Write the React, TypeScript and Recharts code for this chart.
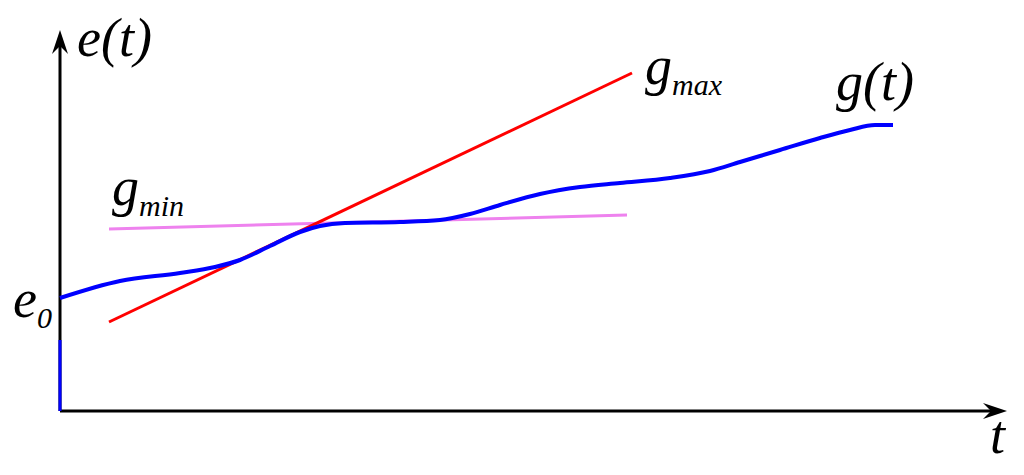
import { LineChart, Line, XAxis, YAxis, ReferenceDot } from 'recharts';

// values in chart units (x: time, y: e), origin at the axes crossing
const gStart = [
    { t: 0, v: 0 },
    { t: 0, v: 71 },
];
const gCurve = [
    { t: 0, v: 113 }, { t: 60, v: 130 }, { t: 120, v: 138 }, { t: 155, v: 144 },
    { t: 180, v: 151 }, { t: 210, v: 165 }, { t: 240, v: 179 }, { t: 260, v: 185 },
    { t: 285, v: 188 }, { t: 340, v: 189 }, { t: 380, v: 191 }, { t: 410, v: 197 },
    { t: 440, v: 206 }, { t: 480, v: 217 }, { t: 520, v: 224 }, { t: 560, v: 228 },
    { t: 610, v: 233 }, { t: 650, v: 240 }, { t: 680, v: 249 }, { t: 720, v: 261 },
    { t: 760, v: 273 }, { t: 790, v: 281 }, { t: 815, v: 286 }, { t: 833, v: 286 },
];
const gMax = [
    { t: 49, v: 89 },
    { t: 572, v: 338 },
];
const gMin = [
    { t: 49, v: 182 },
    { t: 567, v: 196 },
];
const xAxisLine = [
    { t: 0, v: 0 },
    { t: 935, v: 0 },
];
const yAxisLine = [
    { t: 0, v: 0 },
    { t: 0, v: 369 },
];
const tEnd = 947;
const eEnd = 381;
// visible range, wider than the axes so the labels fit inside the plot
const tDomain = [-60, 964];
const eDomain = [-64, 411];

// label text: main part + optional subscript
const labels = [
    { t: 17, v: 355, main: 'e(t)', sub: '' },
    { t: -47, v: 94, main: 'e', sub: '0' },
    { t: 585, v: 327, main: 'g', sub: 'max' },
    { t: 776, v: 311, main: 'g(t)', sub: '' },
    { t: 52, v: 206, main: 'g', sub: 'min' },
    { t: 930, v: -42, main: 't', sub: '' },
];

const makeLabel = (main: string, sub: string) => (props: any) => {
    const { cx, cy } = props;
    return (
        <text x={cx} y={cy} fontFamily="Liberation Serif" fontSize={54} fontStyle="italic">
            {main}
            {sub ? (
                <tspan fontFamily="Liberation Serif" fontSize={30} dy={11}>
                    {sub}
                </tspan>
            ) : null}
        </text>
    );
};

const arrowUp = (props: any) => {
    const { cx, cy } = props;
    return (
        <polygon
            points={`${cx},${cy} ${cx - 8},${cy + 24} ${cx},${cy + 16} ${cx + 8},${cy + 24}`}
            fill="#000"
        />
    );
};

const arrowRight = (props: any) => {
    const { cx, cy } = props;
    return (
        <polygon
            points={`${cx},${cy} ${cx - 24},${cy - 8} ${cx - 16},${cy} ${cx - 24},${cy + 8}`}
            fill="#000"
        />
    );
};

export default function App() {
    return (
        <div style={{ margin: -8 }}>
            <LineChart width={1024} height={475} margin={{ top: 0, right: 0, bottom: 0, left: 0 }}>
                <XAxis type="number" dataKey="t" domain={tDomain} allowDataOverflow hide />
                <YAxis type="number" dataKey="v" domain={eDomain} allowDataOverflow hide />
                <Line data={xAxisLine} dataKey="v" type="linear" stroke="#000" strokeWidth={3} dot={false} isAnimationActive={false} />
                <Line data={yAxisLine} dataKey="v" type="linear" stroke="#000" strokeWidth={3} dot={false} isAnimationActive={false} />
                <Line data={gMin} dataKey="v" type="linear" stroke="#ee82ee" strokeWidth={3} dot={false} isAnimationActive={false} />
                <Line data={gMax} dataKey="v" type="linear" stroke="#ff0000" strokeWidth={3} dot={false} isAnimationActive={false} />
                <Line data={gStart} dataKey="v" type="linear" stroke="#0000ff" strokeWidth={3} dot={false} isAnimationActive={false} />
                <Line data={gCurve} dataKey="v" type="monotone" stroke="#0000ff" strokeWidth={4} dot={false} isAnimationActive={false} />
                <ReferenceDot x={tEnd} y={0} r={0} shape={arrowRight} />
                <ReferenceDot x={0} y={eEnd} r={0} shape={arrowUp} />
                {labels.map((l, i) => (
                    <ReferenceDot key={i} x={l.t} y={l.v} r={0} shape={makeLabel(l.main, l.sub)} />
                ))}
            </LineChart>
        </div>
    );
}
